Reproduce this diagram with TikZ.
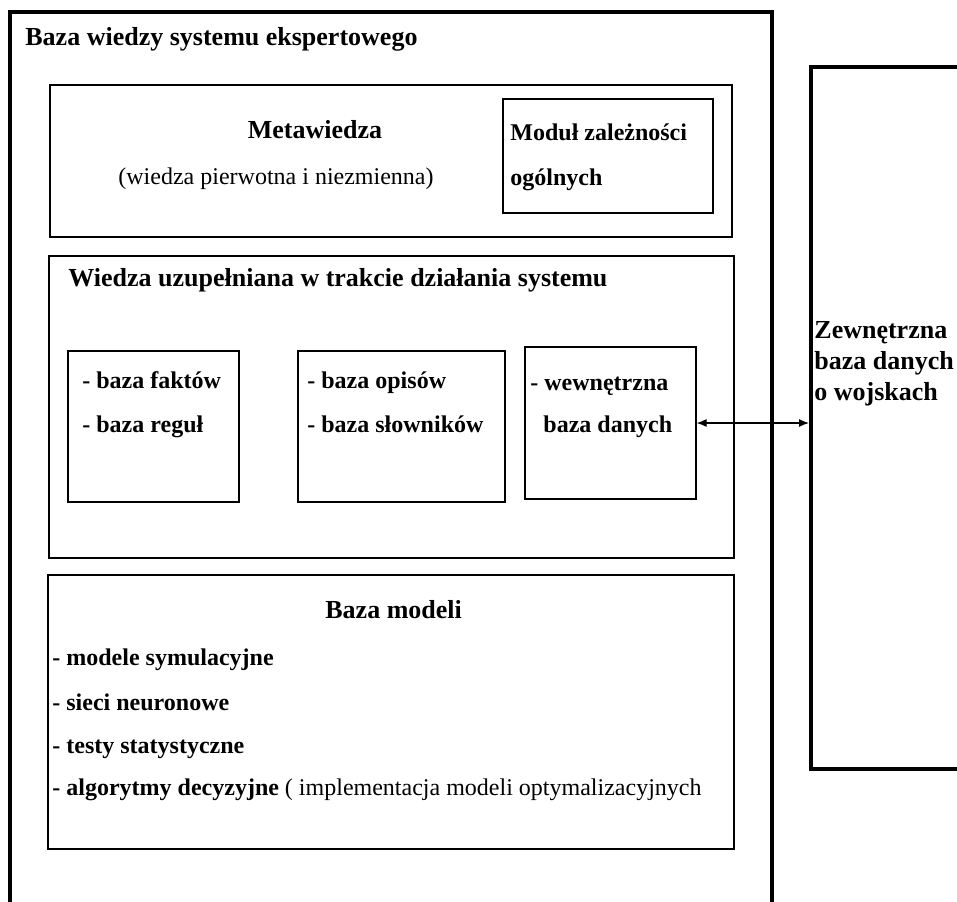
\documentclass[tikz,border=0pt]{standalone}
\usepackage{fontspec}
\setmainfont{Liberation Serif}
\usepackage{tikz}
\usetikzlibrary{calc, arrows.meta, positioning, fit}

\begin{document}
\begin{tikzpicture}[x=0.5pt, y=-0.5pt,
    every node/.style={font=\fontsize{12}{15}\selectfont},
    thickbox/.style={draw, line width=2pt, inner sep=0pt},
    midbox/.style={draw, line width=0.9pt, inner sep=0pt},
    thinbox/.style={draw, line width=0.6pt, inner sep=0pt},
    txt/.style={anchor=base west, inner sep=0pt},
    btxt/.style={txt, font=\fontsize{12}{15}\selectfont\bfseries},
    ttxt/.style={txt, font=\fontsize{13}{16}\selectfont\bfseries}]
		  \useasboundingbox (0,0) rectangle (957,901);
		  \clip (0,0) rectangle (957,901);
		  % frames
		  \node[thickbox, fit={(10,12) (772,1000)}] (kb) {};
		  \node[thickbox, fit={(811,67) (1000,769)}] (ext) {};
		  \node[midbox, fit={(50,85) (732,237)}] (meta) {};
		  \node[thinbox, fit={(503,99) (713,213)}] (modul) {};
		  \node[midbox, fit={(49,256) (734,558)}] (wiedza) {};
		  \node[thinbox, fit={(68,351) (239,502)}] (fakty) {};
		  \node[thinbox, fit={(298,351) (505,502)}] (opisy) {};
		  \node[thinbox, fit={(525,347) (696,499)}] (wewn) {};
		  \node[midbox, fit={(48,575) (734,849)}] (modele) {};
		  
		  % texts
		  \node[ttxt] (kbtitle) at (25,45) {Baza wiedzy systemu ekspertowego};
		  \node[ttxt, anchor=base] (metatitle) at (315,138) {Metawiedza};
		  \node[txt] (metasub) at (118,184) {(wiedza pierwotna i niezmienna)};
		  \node[btxt] (modul1) at (510,140) {Moduł zależności};
		  \node[btxt] (modul2) at (510,185) {ogólnych};
		  \node[ttxt] (wiedzatitle) at (68,286) {Wiedza uzupełniana w trakcie działania systemu};
		  \node[btxt] (fakty1) at (82,388) {- baza faktów};
		  \node[btxt] (fakty2) at (82,432) {- baza reguł};
		  \node[btxt] (opisy1) at (307,388) {- baza opisów};
		  \node[btxt] (opisy2) at (307,432) {- baza słowników};
		  \node[btxt] (wewn1) at (530,390) {- wewnętrzna};
		  \node[btxt] (wewn2) at (543,432) {baza danych};
		  \node[ttxt] (ext1) at (814,338) {Zewnętrzna};
		  \node[ttxt] (ext2) at (814,369) {baza danych};
		  \node[ttxt] (ext3) at (814,400) {o wojskach};
		  \node[ttxt] (modeletitle) at (325,618) {Baza modeli};
		  \node[btxt] (model1) at (52,665) {- modele symulacyjne};
		  \node[btxt] (model2) at (52,710) {- sieci neuronowe};
		  \node[btxt] (model3) at (52,753) {- testy statystyczne};
		  \node[txt] (model4) at (52,795) {\textbf{- algorytmy decyzyjne} ( implementacja modeli optymalizacyjnych};
		  
		  \draw[{Latex[length=5pt,width=4pt]}-{Latex[length=5pt,width=4pt]}, line width=0.6pt] (wewn.east) -- (wewn.east -| ext.west);
		\end{tikzpicture}
\end{document}
